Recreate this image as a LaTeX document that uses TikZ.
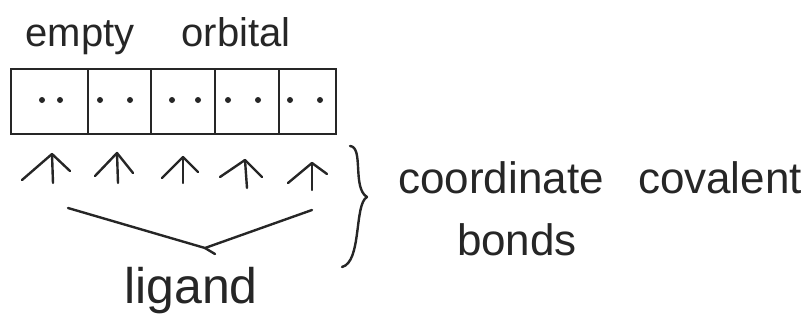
\documentclass[tikz,border=0pt]{standalone}
\usepackage{fontspec}
\setmainfont{Liberation Sans}
\begin{document}
\begin{tikzpicture}[x=1pt,y=-1pt,
  ink/.style={line width=2.4pt,line cap=round,line join=round,black!85},
  cell/.style={draw=black!85,line width=2.4pt,minimum height=65pt,inner sep=0pt,anchor=north west},
  edot/.style={circle,fill=black!85,inner sep=0pt,minimum size=6pt},
  lbl/.style={anchor=base,inner sep=0pt,text=black!85}]
\useasboundingbox (0,0) rectangle (805,327);
% labels
\node[lbl,font=\fontsize{40}{44}\selectfont] (empty) at (80,46) {empty};
\node[lbl,font=\fontsize{40}{44}\selectfont] (orb) at (236,46) {orbital};
% orbital boxes
\node[cell,minimum width=77pt] (b1) at (10,68) {};
\node[cell,minimum width=63pt] (b2) at (87,68) {};
\node[cell,minimum width=64pt] (b3) at (150,68) {};
\node[cell,minimum width=64pt] (b4) at (214,68) {};
\node[cell,minimum width=57pt] (b5) at (278,68) {};
% electron pairs
\foreach \i/\a/\b in {1/42/60,2/100/130,3/172/198,4/228/258,5/290/320}{
  \node[edot] (d\i a) at (\a,100) {};
  \node[edot] (d\i b) at (\b,100) {};
}
% arrows (tip, stem bottom, left barb, right barb)
\foreach \i/\tx/\ty/\bx/\by/\lx/\ly/\rx/\ry in {
  1/52/154/53/183/22/180/70/171,
  2/117/153/118/183/95/176/133/173,
  3/183/157/183/183/162/178/198/172,
  4/245/160/247/188/220/177/262/177,
  5/312/163/312/190/288/183/327/174}{
  \coordinate (t\i) at (\tx,\ty);
  \coordinate (s\i) at (\bx,\by);
  \coordinate (l\i) at (\lx,\ly);
  \coordinate (r\i) at (\rx,\ry);
  \draw[ink] (s\i) -- (t\i);
  \draw[ink] (l\i) -- (t\i) -- (r\i);
}
% ligand
\node[lbl,font=\fontsize{50}{54}\selectfont] (lig) at (191,303) {ligand};
\coordinate (vl) at (68,208);
\coordinate (vm) at (205,248);
\coordinate (vr) at (312,210);
\draw[ink] (vl) -- (vm) -- (vr);
\draw[ink] (vm) -- ++(10,6);
% brace
\coordinate (bt) at (350,146);
\coordinate (bm) at (367,197);
\coordinate (bb) at (342,267);
\draw[ink] (bt) .. controls (364,147) and (352,188) .. (bm)
           .. controls (354,204) and (362,262) .. (bb);
% text
\node[lbl,font=\fontsize{44}{48}\selectfont] (coord) at (501,193) {coordinate};
\node[lbl,font=\fontsize{44}{48}\selectfont] (cov) at (720,193) {covalent};
\node[lbl,font=\fontsize{44}{48}\selectfont] (bonds) at (517,255) {bonds};
\end{tikzpicture}
\end{document}
